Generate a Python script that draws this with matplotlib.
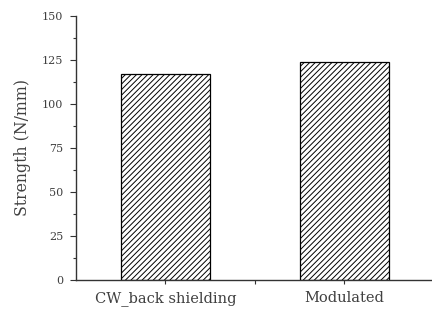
import matplotlib
matplotlib.use('Agg')
import matplotlib.pyplot as plt
from matplotlib.ticker import MultipleLocator, FixedLocator

# data
categories = ['CW_back shielding', 'Modulated']
strength = [117, 123.6]

plt.rcParams['font.family'] = ['DejaVu Serif']
plt.rcParams['hatch.color'] = '#333333'
plt.rcParams['hatch.linewidth'] = 0.7

txt = '#404040'

fig = plt.figure(figsize=(4.32, 3.13), dpi=100)
ax = fig.add_axes([76 / 432, 1 - 280 / 313, 1 - 76 / 432, (280 - 16) / 313])

x = list(range(len(categories)))
ax.bar(x, strength, width=0.5, color='white', edgecolor='black',
       linewidth=0.9, hatch='//////')

ax.set_xlim(-0.5, 1.49)
ax.set_ylim(0, 150)
ax.spines['top'].set_visible(False)
ax.spines['right'].set_visible(False)
for s in ['left', 'bottom']:
    ax.spines[s].set_color('#333333')
    ax.spines[s].set_linewidth(1.0)

ax.xaxis.set_major_locator(FixedLocator([0, 0.5, 1]))
ax.set_xticklabels([categories[0], '', categories[1]])
ax.yaxis.set_major_locator(MultipleLocator(25))
ax.yaxis.set_minor_locator(MultipleLocator(12.5))
ax.tick_params(axis='x', length=3, width=0.8, color='#333333', labelsize=10.5,
               labelcolor=txt, pad=5)
ax.tick_params(axis='y', which='major', length=4, width=0.8, color='#333333',
               labelsize=8, labelcolor=txt, pad=5)
ax.tick_params(axis='y', which='minor', length=2, width=0.8, color='#333333')
ax.set_ylabel('Strength (N/mm)', fontsize=11.3, color=txt, labelpad=8)

fig.savefig('out.png', dpi=100)
